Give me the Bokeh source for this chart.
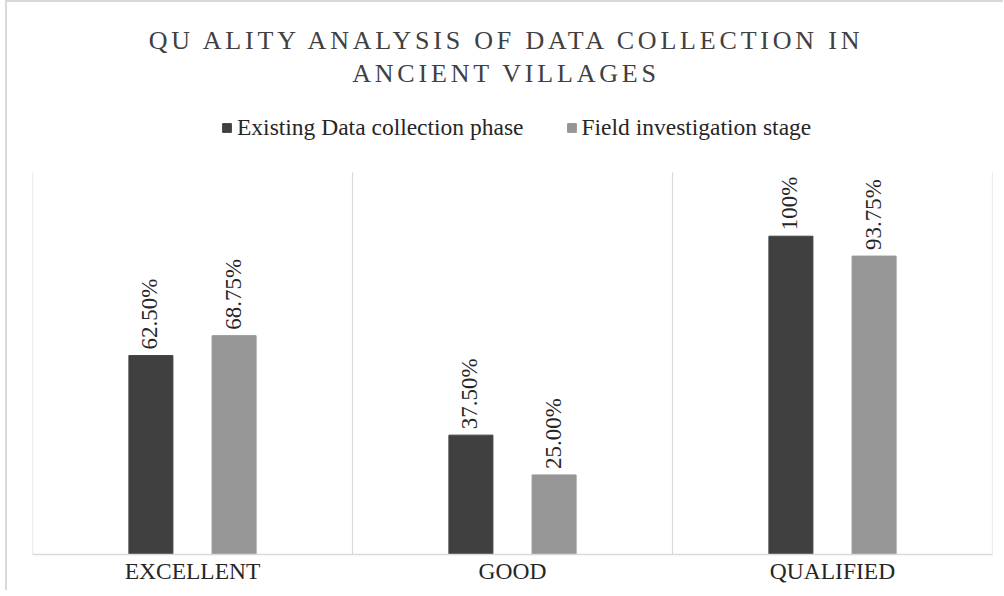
from math import pi
from bokeh.plotting import figure
from bokeh.models import ColumnDataSource, FactorRange, Legend, LegendItem, Div
from bokeh.layouts import column
from bokeh.transform import dodge
from bokeh.core.properties import value
from bokeh.embed import file_html
from bokeh.resources import INLINE

categories = ["EXCELLENT", "GOOD", "QUALIFIED"]
series_names = ["Existing Data collection phase", "Field investigation stage"]
existing_vals = [62.5, 37.5, 100.0]
field_vals = [68.75, 25.0, 93.75]
existing_labels = ["62.50%", "37.50%", "100%"]
field_labels = ["68.75%", "25.00%", "93.75%"]
title_lines = ["QU ALITY ANALYSIS OF DATA COLLECTION IN", "ANCIENT VILLAGES"]
separators = [0, 1, 2, 3]      # category boundaries (vertical grid lines)
grid_top = 120                 # value axis maximum

FONT = "Liberation Serif"
DARK = "#404040"
GRAY = "#969696"
TXT = "#262626"
GRID = "#d9d9d9"

src = ColumnDataSource(dict(cat=categories, existing=existing_vals, field=field_vals,
                            existing_lbl=existing_labels, field_lbl=field_labels))
sep_src = ColumnDataSource(dict(x=separators, y0=[0] * len(separators),
                                y1=[grid_top] * len(separators)))

title_div = Div(
    text=("<div style=\"box-sizing:border-box;width:986px;font-family:'Liberation Serif';"
          "font-size:26px;letter-spacing:3.8px;text-align:center;line-height:33px;"
          "color:#404040;padding-top:17px;padding-left:2px;\">"
          + "<br>".join(title_lines) + "</div>"),
    width=986, height=88,
)

p = figure(x_range=FactorRange(factors=categories, range_padding=0), y_range=(0, 142),
           width=986, height=490, output_backend="svg", toolbar_location=None,
           min_border_left=25, min_border_right=1, min_border_top=2, min_border_bottom=36)

p.segment(x0="x", y0="y0", x1="x", y1="y1", source=sep_src, line_color=GRID, line_width=1.2)

r1 = p.vbar(x=dodge("cat", -0.13, range=p.x_range), top="existing", width=0.1375, source=src,
            fill_color=DARK, line_color=DARK)
r2 = p.vbar(x=dodge("cat", 0.13, range=p.x_range), top="field", width=0.1375, source=src,
            fill_color=GRAY, line_color=GRAY)

p.text(x=dodge("cat", -0.13, range=p.x_range), y="existing", text="existing_lbl", source=src,
       angle=pi / 2, text_align="left", text_baseline="middle", y_offset=-6, x_offset=-1,
       text_font=value(FONT), text_font_size="23px", text_color=TXT)
p.text(x=dodge("cat", 0.13, range=p.x_range), y="field", text="field_lbl", source=src,
       angle=pi / 2, text_align="left", text_baseline="middle", y_offset=-6, x_offset=-1,
       text_font=value(FONT), text_font_size="23px", text_color=TXT)

p.xgrid.visible = False
p.ygrid.visible = False
p.yaxis.visible = False
p.outline_line_color = None
p.xaxis.major_tick_line_color = None
p.xaxis.minor_tick_line_color = None
p.xaxis.axis_line_color = GRID
p.xaxis.axis_line_width = 1.5
p.xaxis.major_label_standoff = -3
p.xaxis.major_label_text_font = FONT
p.xaxis.major_label_text_font_size = "23.5px"
p.xaxis.major_label_text_color = TXT

legend = Legend(items=[LegendItem(label=series_names[0], renderers=[r1]),
                       LegendItem(label=series_names[1], renderers=[r2])],
                orientation="horizontal", location=(189, 413),
                glyph_width=11, glyph_height=11, label_standoff=5, spacing=42,
                padding=0, margin=0, border_line_color=None, background_fill_alpha=0,
                label_text_font=FONT, label_text_font_size="23.5px", label_text_color=TXT)
p.add_layout(legend, "center")

layout = column(title_div, p, spacing=0,
                styles={"margin-left": "5px",
                        "border-left": "2px solid #d9d9d9", "border-top": "2px solid #d9d9d9"})
open("out.html", "w").write(file_html(layout, INLINE))
